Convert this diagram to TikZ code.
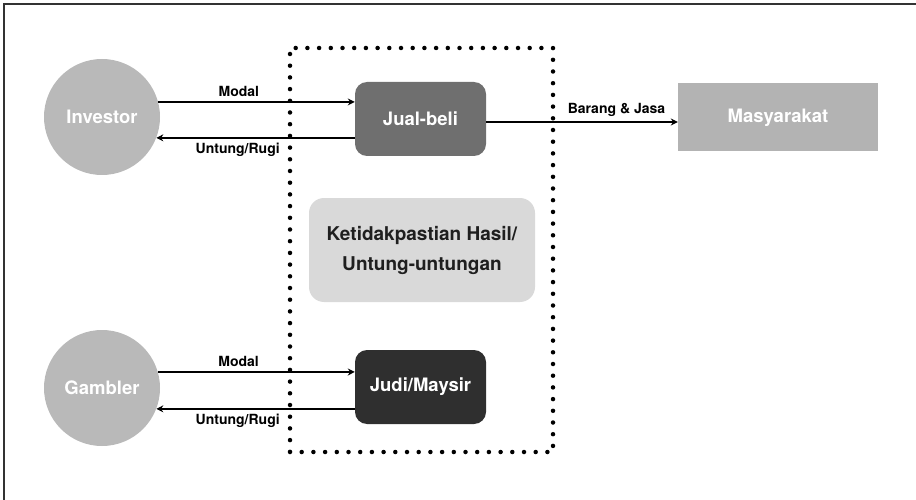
\documentclass[tikz,border=0pt]{standalone}
\usepackage{fontspec}
\setmainfont{TeX Gyre Heros}
\usetikzlibrary{arrows.meta}
\definecolor{circgray}{HTML}{B9B9B9}
\definecolor{masgray}{HTML}{B3B3B3}
\definecolor{ketgray}{HTML}{D9D9D9}
\definecolor{jbgray}{HTML}{6F6F6F}
\definecolor{jmgray}{HTML}{2F2F2F}
\definecolor{framegray}{HTML}{333333}
\tikzset{
  actor/.style={circle, fill=circgray, minimum size=116pt, inner sep=0pt, text=white, font=\fontsize{18.5}{22}\selectfont\bfseries},
  procbox/.style={rounded corners=12pt, minimum width=131pt, minimum height=74pt, inner sep=0pt, text=white, font=\fontsize{18.5}{22}\selectfont\bfseries},
  arr/.style={line width=2pt, -{Stealth[length=7pt,width=7pt]}},
  lbl/.style={font=\fontsize{14}{16}\selectfont\bfseries, text=black, inner sep=1pt},
  dotbox/.style={draw=black, line width=4.5pt, line cap=round, dash pattern=on 0pt off 11.7pt, minimum width=263pt, minimum height=404pt, inner sep=0pt}
}
\begin{document}
\begin{tikzpicture}[x=1pt,y=-1pt]
\useasboundingbox (0,0) rectangle (916,500);
% frame
\draw[framegray, line width=2.5pt] (4,500) -- (4,4) -- (916,4);
% dotted zone
\node[dotbox] (zone) at (421.5,250) {};
% nodes
\node[actor] (inv) at (102,117) {Investor};
\node[actor] (gam) at (102,388) {Gambler};
\node[procbox, fill=jbgray] (jb) at (420.5,119) {Jual-beli};
\node[procbox, fill=jmgray] (jm) at (420.5,387) {Judi/Maysir};
\node[rounded corners=15pt, fill=ketgray, minimum width=226pt, minimum height=104pt, inner sep=0pt,
      align=center, font=\fontsize{19}{30}\selectfont\bfseries, text=black!88] (ket) at (422,250)
      {Ketidakpastian Hasil/\\Untung-untungan};
\node[fill=masgray, minimum width=200pt, minimum height=68pt, inner sep=0pt, text=white,
      font=\fontsize{18.5}{22}\selectfont\bfseries] (mas) at (778,117.5) {Masyarakat};
% connectors
\draw[arr] (inv.15) -- (inv.15 -| jb.west) node[lbl, pos=0.41, above=3pt] {Modal};
\draw[arr] (jb.west |- inv.-21) -- (inv.-21) node[lbl, pos=0.59, below=3pt] {Untung/Rugi};
\draw[arr] (gam.16) -- (gam.16 -| jm.west) node[lbl, pos=0.41, above=3pt] {Modal};
\draw[arr] (jm.west |- gam.-21) -- (gam.-21) node[lbl, pos=0.59, below=3pt] {Untung/Rugi};
\draw[arr] ([yshift=-3pt]jb.east) -- ([yshift=-3pt]jb.east -| mas.west) node[lbl, pos=0.68, above=3pt] {Barang \& Jasa};
\end{tikzpicture}
\end{document}
